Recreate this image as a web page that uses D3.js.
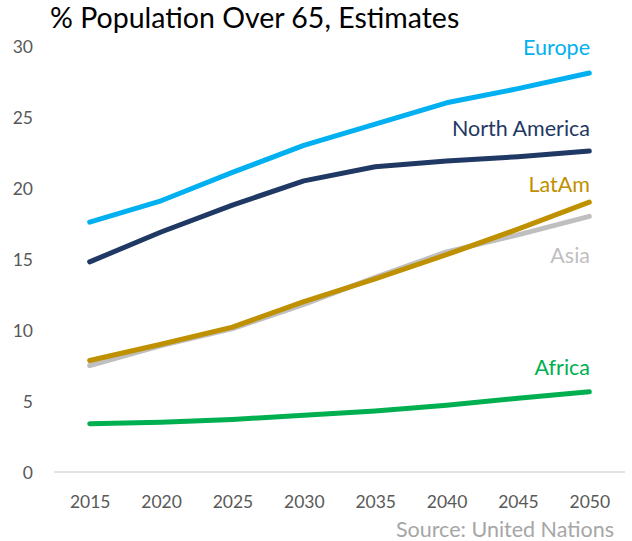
<!DOCTYPE html>
<html>
<head>
<meta charset="utf-8">
<script src="https://cdn.jsdelivr.net/npm/d3@7"></script>
<style>
  html, body { margin: 0; padding: 0; background: #fff; }
  svg { display: block; font-family: Lato, "Open Sans", sans-serif; }
</style>
</head>
<body>
<svg id="chart" width="632" height="541"></svg>
<script>
// Share of population aged 65+, UN estimates by region
const years = ["2015", "2020", "2025", "2030", "2035", "2040", "2045", "2050"];
const yTicks = [0, 5, 10, 15, 20, 25, 30];

const africa       = [3.4, 3.5, 3.7, 4.0, 4.3, 4.7, 5.2, 5.65];
const asia         = [7.5, 8.9, 10.1, 11.8, 13.7, 15.5, 16.7, 18.0];
const latAm        = [7.85, 9.0, 10.2, 12.0, 13.6, 15.3, 17.1, 19.0];
const northAmerica = [14.8, 16.9, 18.8, 20.5, 21.5, 21.9, 22.2, 22.6];
const europe       = [17.6, 19.1, 21.1, 23.0, 24.5, 26.0, 27.0, 28.1];

const seriesNames  = ["Africa", "Asia", "LatAm", "North America", "Europe"];
const seriesValues = [africa, asia, latAm, northAmerica, europe];
const seriesColors = ["#00B050", "#BFBFBF", "#BF9000", "#1F3864", "#00B0F0"];
const labelBaselines = [375, 263, 192, 136, 55];

const svg = d3.select("#chart");

const x = d3.scalePoint().domain(years).range([54, 625]).padding(0.5);
const y = d3.scaleLinear().domain([0, 30]).range([472, 46]);

// Title
svg.append("text")
  .attr("x", 50).attr("y", 28)
  .attr("font-size", 28.5)
  .attr("fill", "#000")
  .text("% Population Over 65, Estimates");

// Y axis labels (no line, no ticks)
const yAxis = d3.axisLeft(y).tickValues(yTicks).tickSize(0).tickPadding(0);
const gy = svg.append("g").attr("transform", "translate(33,0)").call(yAxis);
gy.select(".domain").remove();
gy.selectAll("text")
  .attr("font-family", "Lato, 'Open Sans', sans-serif")
  .attr("font-size", 17.5)
  .attr("fill", "#595959")
  .attr("dy", "0.36em");

// Baseline and x labels
const xAxis = d3.axisBottom(x).tickSize(0).tickPadding(0);
const gx = svg.append("g").attr("transform", `translate(0,${y(0)})`).call(xAxis);
gx.select(".domain").remove();
gx.selectAll("text")
  .attr("font-family", "Lato, 'Open Sans', sans-serif")
  .attr("font-size", 17.5)
  .attr("fill", "#595959")
  .attr("y", 36)
  .attr("dy", 0);

svg.append("line")
  .attr("x1", 54).attr("x2", 625)
  .attr("y1", y(0)).attr("y2", y(0))
  .attr("stroke", "#D9D9D9")
  .attr("stroke-width", 1.5);

// Series lines
const line = d3.line()
  .x((d, i) => x(years[i]))
  .y(d => y(d));

seriesValues.forEach((vals, k) => {
  svg.append("path")
    .datum(vals)
    .attr("d", line)
    .attr("fill", "none")
    .attr("stroke", seriesColors[k])
    .attr("stroke-width", 5)
    .attr("stroke-linecap", "round")
    .attr("stroke-linejoin", "round");

  svg.append("text")
    .attr("x", 590)
    .attr("y", labelBaselines[k])
    .attr("text-anchor", "end")
    .attr("font-size", 21.5)
    .attr("fill", seriesColors[k])
    .text(seriesNames[k]);
});

// Source note
svg.append("text")
  .attr("x", 614).attr("y", 537)
  .attr("text-anchor", "end")
  .attr("font-size", 21.5)
  .attr("fill", "#A6A6A6")
  .text("Source: United Nations");
</script>
</body>
</html>
